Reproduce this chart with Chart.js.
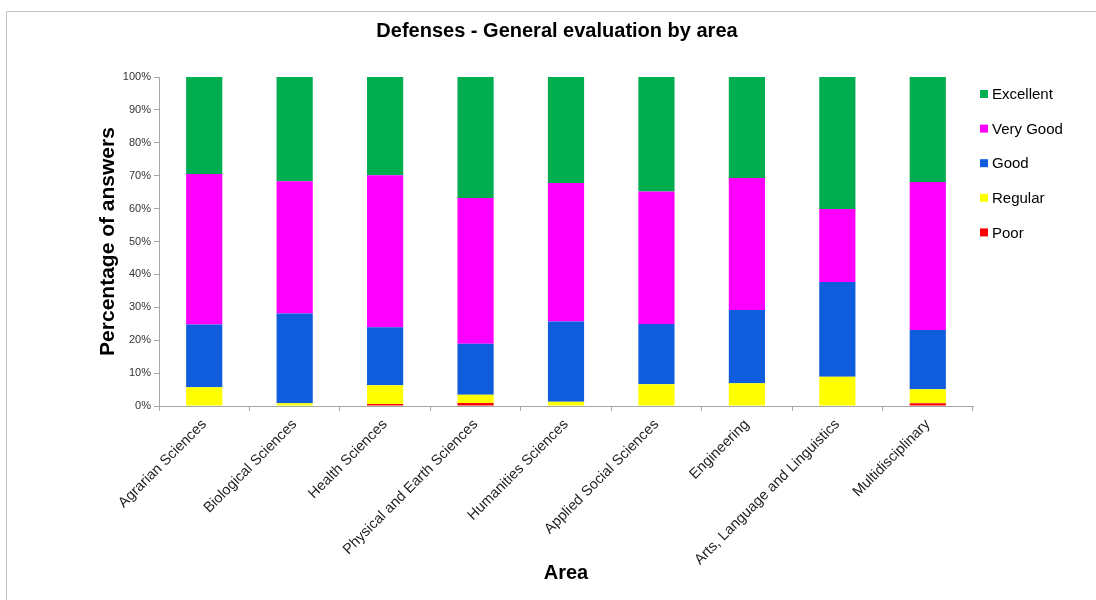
<!DOCTYPE html>
<html lang="en">
<head>
    <meta charset="UTF-8">
    <title>Defenses - General evaluation by area</title>
    <style>
        body { margin: 0; background: #fff; }
        #wrap { width: 1096px; height: 600px; position: relative; }
    </style>
</head>
<body>
    <div id="wrap">
        <canvas id="areaChart" width="1096" height="600"></canvas>
    </div>

    <script src="https://cdn.jsdelivr.net/npm/chart.js"></script>
    <script>
        // Data (percent of answers)
        const areas = ['Agrarian Sciences', 'Biological Sciences', 'Health Sciences', 'Physical and Earth Sciences',
            'Humanities Sciences', 'Applied Social Sciences', 'Engineering', 'Arts, Language and Linguistics', 'Multidisciplinary'];
        const poor      = [0,    0,    0.6,  0.9,  0,    0,    0,    0,    0.8];
        const regular   = [5.7,  0.8,  5.7,  2.5,  1.3,  6.6,  6.9,  8.9,  4.3];
        const good      = [19.1, 27.3, 17.6, 15.5, 24.4, 18.3, 22.3, 28.8, 18.0];
        const veryGood  = [45.7, 40.2, 46.2, 44.3, 42.1, 40.3, 40.1, 22.2, 45.0];
        const excellent = [29.5, 31.7, 29.9, 36.8, 32.2, 34.8, 30.7, 40.1, 31.9];
        const yTicks = [0, 10, 20, 30, 40, 50, 60, 70, 80, 90, 100];

        const FONT = 'Arial, "Liberation Sans", sans-serif';

        // Titles, legend and frame drawn on top
        const decorPlugin = {
            id: 'decor',
            afterDraw(chart) {
                const ctx = chart.ctx;
                const area = chart.chartArea;
                ctx.save();

                // frame
                ctx.strokeStyle = '#c0c0c0';
                ctx.lineWidth = 1;
                ctx.beginPath();
                ctx.moveTo(6.5, 600);
                ctx.lineTo(6.5, 11.5);
                ctx.lineTo(1096, 11.5);
                ctx.stroke();

                ctx.fillStyle = '#000';
                ctx.textAlign = 'center';
                ctx.textBaseline = 'middle';

                // chart title
                ctx.font = 'bold 20px ' + FONT;
                ctx.fillText('Defenses - General evaluation by area', 557, 31);

                // x axis title
                ctx.font = 'bold 20px ' + FONT;
                ctx.fillText('Area', (area.left + area.right) / 2, 573);

                // y axis title
                ctx.save();
                ctx.translate(108, (area.top + area.bottom) / 2);
                ctx.rotate(-Math.PI / 2);
                ctx.font = 'bold 21px ' + FONT;
                ctx.fillText('Percentage of answers', 0, 0);
                ctx.restore();

                // legend, Excellent on top
                ctx.font = '15px ' + FONT;
                ctx.textAlign = 'left';
                const sets = chart.data.datasets.slice().reverse();
                sets.forEach((ds, i) => {
                    const y = 94 + i * 34.6;
                    ctx.fillStyle = ds.backgroundColor;
                    ctx.fillRect(980, y - 4, 8, 8);
                    ctx.fillStyle = '#000';
                    ctx.fillText(ds.label, 992, y + 1);
                });

                ctx.restore();
            }
        };

        function initChart() {
            const ctx = document.getElementById('areaChart').getContext('2d');
            window.areaChart = new Chart(ctx, {
                type: 'bar',
                data: {
                    labels: areas,
                    datasets: [
                        { label: 'Poor', data: poor, backgroundColor: '#ff0000' },
                        { label: 'Regular', data: regular, backgroundColor: '#ffff00' },
                        { label: 'Good', data: good, backgroundColor: '#0f5ddc' },
                        { label: 'Very Good', data: veryGood, backgroundColor: '#ff00ff' },
                        { label: 'Excellent', data: excellent, backgroundColor: '#00ae4f' }
                    ]
                },
                options: {
                    responsive: false,
                    animation: false,
                    datasets: {
                        bar: { barPercentage: 1, categoryPercentage: 0.4, borderWidth: 0 }
                    },
                    layout: { padding: { left: 0, right: 123, top: 77, bottom: 0 } },
                    plugins: {
                        legend: { display: false },
                        title: { display: false },
                        tooltip: { enabled: false }
                    },
                    scales: {
                        x: {
                            stacked: true,
                            grid: { drawOnChartArea: false, offset: true, tickLength: 5, color: '#a6a6a6' },
                            border: { color: '#a6a6a6' },
                            ticks: {
                                autoSkip: false, minRotation: 45, maxRotation: 45, padding: 5,
                                color: '#222', font: { family: FONT, size: 14.5 }
                            },
                            afterFit(scale) { scale.height = 194; }
                        },
                        y: {
                            stacked: true,
                            min: 0,
                            max: 100,
                            afterBuildTicks(scale) { scale.ticks = yTicks.map(v => ({ value: v })); },
                            grid: { drawOnChartArea: false, tickLength: 5, color: '#a6a6a6' },
                            border: { color: '#a6a6a6' },
                            ticks: {
                                padding: 3, color: '#333', font: { family: FONT, size: 11 },
                                callback: v => v + '%'
                            },
                            afterFit(scale) { scale.width = 159; }
                        }
                    }
                },
                plugins: [decorPlugin]
            });
        }

        window.onload = initChart;
    </script>
</body>
</html>
